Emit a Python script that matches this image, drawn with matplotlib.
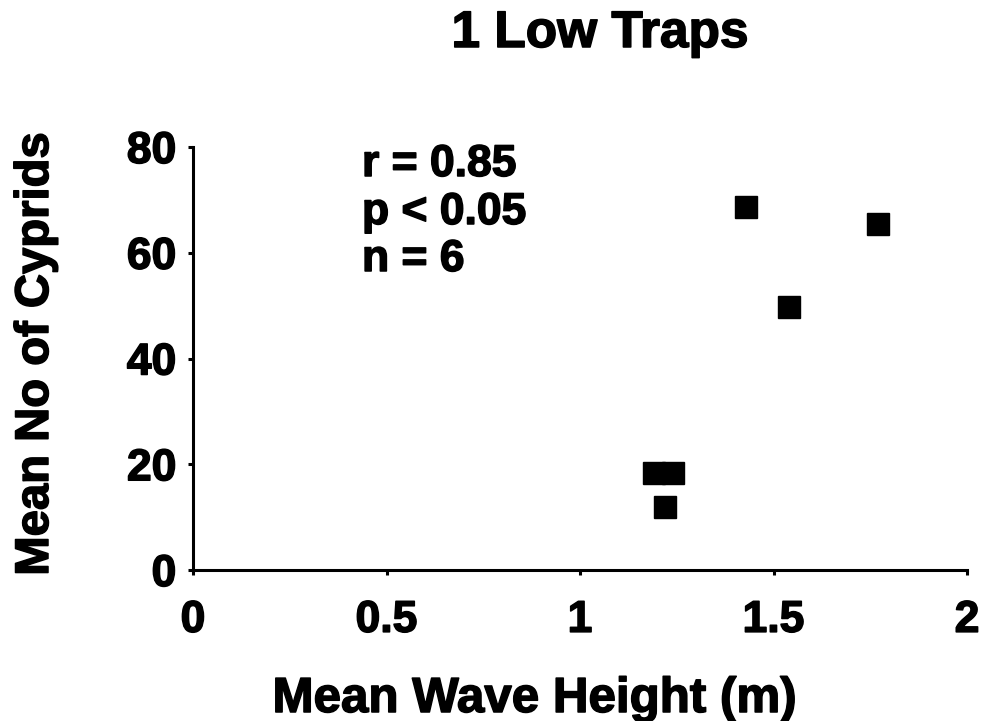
import matplotlib
matplotlib.use("Agg")
import matplotlib.pyplot as plt
import matplotlib.patheffects as pe

plt.rcParams['font.family'] = ['Liberation Sans', 'DejaVu Sans']
plt.rcParams['font.weight'] = 'bold'

# Data
wave_height = [1.19, 1.24, 1.22, 1.43, 1.54, 1.77]
cyprids = [18.3, 18.3, 11.9, 68.6, 49.7, 65.5]
x_ticks = [0, 0.5, 1, 1.5, 2]
x_tick_labels = ["0", "0.5", "1", "1.5", "2"]
y_ticks = [0, 20, 40, 60, 80]
y_tick_labels = ["0", "20", "40", "60", "80"]
stats_lines = ["r = 0.85", "p < 0.05", "n = 6"]
title = "1 Low Traps"
x_label = "Mean Wave Height (m)"
y_label = "Mean No of Cyprids"

heavy = [pe.withStroke(linewidth=1.1, foreground='black')]

W, H = 981, 721
fig = plt.figure(figsize=(W / 100, H / 100), dpi=100)
ax = fig.add_axes([193 / W, 1 - 570 / H, (967 - 193) / W, (570 - 147) / H])

ax.plot(wave_height, cyprids, linestyle='none', marker='s', markersize=15.5,
        markeredgewidth=1, color='black', clip_on=False)

ax.set_xlim(0, 2)
ax.set_ylim(0, 80)
ax.set_xticks(x_ticks)
ax.set_xticklabels(x_tick_labels)
ax.set_yticks(y_ticks)
ax.set_yticklabels(y_tick_labels)

for side in ['top', 'right']:
    ax.spines[side].set_visible(False)
for side in ['left', 'bottom']:
    ax.spines[side].set_linewidth(2.2)
    ax.spines[side].set_color('black')

ax.tick_params(axis='both', direction='out', length=3.5, width=2.2, labelsize=32,
               colors='black')
ax.tick_params(axis='x', pad=18)
ax.tick_params(axis='y', pad=8.5)
for lab in ax.get_xticklabels() + ax.get_yticklabels():
    lab.set_fontweight('bold')
    lab.set_path_effects(heavy)

# Stats text
baselines = [176, 224, 271]
for line, b in zip(stats_lines, baselines):
    fig.text(362 / W, 1 - b / H, line, fontsize=32, fontweight='bold',
             ha='left', va='baseline', path_effects=heavy)

fig.text(600 / W, 1 - 47 / H, title, fontsize=37, fontweight='bold',
         ha='center', va='baseline', path_effects=heavy)
fig.text(534 / W, 1 - 712 / H, x_label, fontsize=35.5, fontweight='bold',
         ha='center', va='baseline', path_effects=heavy)
fig.text(48 / W, 1 - 354 / H, y_label, fontsize=34, fontweight='bold',
         ha='center', va='baseline', rotation=90, rotation_mode='anchor',
         path_effects=heavy)

fig.savefig("out.png", dpi=100)
